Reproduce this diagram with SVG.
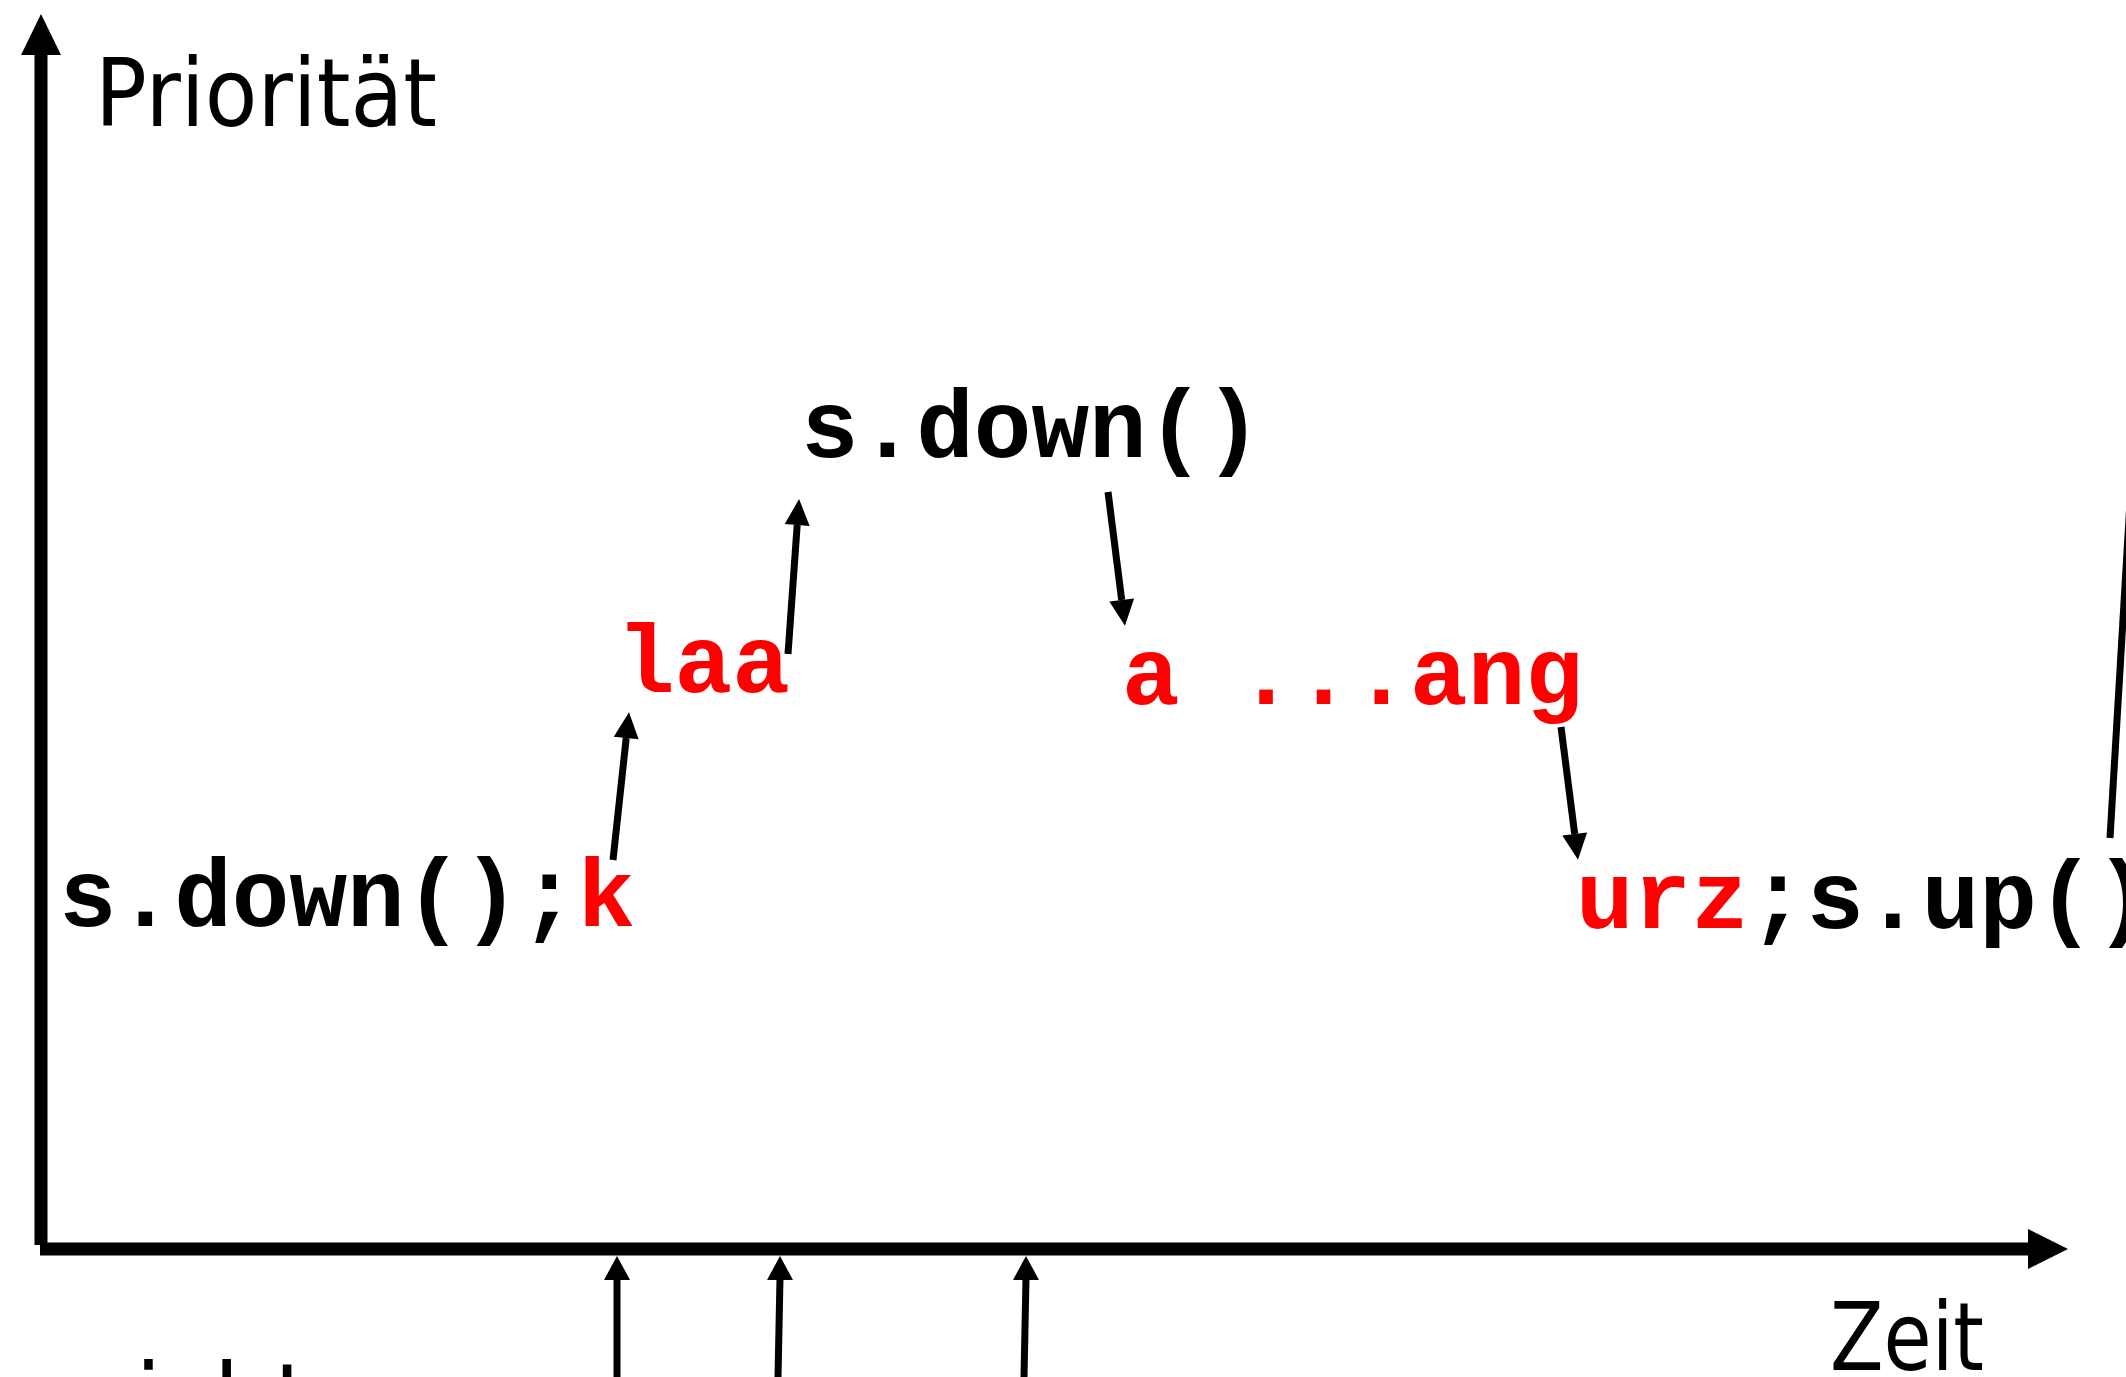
<svg xmlns="http://www.w3.org/2000/svg" width="2126" height="1377" viewBox="0 0 2126 1377">
<style>
.sans{font-family:"DejaVu Sans","Lato",sans-serif;font-weight:normal;font-size:95px;fill:#000}
.mono{font-family:"Liberation Mono","Courier New",monospace;font-weight:bold;font-size:96px;fill:#000}
.red{fill:#ff0000}
.conn{stroke:#000;stroke-width:7;fill:none}
.axis{stroke:#000;stroke-width:13;fill:none}
</style>
<defs>
<marker id="ah" markerUnits="userSpaceOnUse" markerWidth="28" markerHeight="26" refX="0" refY="12.5" orient="auto" overflow="visible">
<path d="M0,0 L26,12.5 L0,25 z" fill="#000"/>
</marker>
</defs>
<rect width="2126" height="1377" fill="#fff"/>
<g id="axes">
<line class="axis" x1="41" y1="52" x2="41" y2="1245"/>
<path d="M41,14 L61,55 L21,55 z" fill="#000"/>
<line class="axis" x1="40" y1="1249" x2="2030" y2="1249"/>
<path d="M2068,1249 L2028,1229 L2028,1269 z" fill="#000"/>
</g>
<g id="label-prioritaet"><text class="sans" x="95" y="126" textLength="342" lengthAdjust="spacingAndGlyphs">Priorität</text></g>
<g id="label-zeit"><text class="sans" x="1830" y="1370" textLength="154" lengthAdjust="spacingAndGlyphs">Zeit</text></g>
<g id="label-bottom"><text class="sans" x="75" y="1431">nicht</text></g>
<g id="node-start"><text class="mono" x="59" y="926">s.down();<tspan class="red">k</tspan></text></g>
<g id="node-laa"><text class="mono red" x="617" y="692">laa</text></g>
<g id="node-sdown"><text class="mono" x="801" y="457">s.down()</text></g>
<g id="node-ang"><text class="mono red" x="1122" y="704">a ...ang</text></g>
<g id="node-end"><text class="mono" x="1576" y="928"><tspan class="red">urz</tspan>;s.up()</text></g>
<g id="connectors">
<line class="conn" x1="613" y1="860" x2="626.2" y2="738" marker-end="url(#ah)"/>
<line class="conn" x1="788" y1="654" x2="797.2" y2="525" marker-end="url(#ah)"/>
<line class="conn" x1="1108" y1="492" x2="1121.7" y2="600" marker-end="url(#ah)"/>
<line class="conn" x1="1561" y1="727" x2="1574.7" y2="834" marker-end="url(#ah)"/>
<line class="conn" x1="2110" y1="838" x2="2142" y2="300"/>
<line class="conn" x1="617" y1="1377" x2="617" y2="1278"/>
<path d="M617,1256 L630,1280 L604,1280 z" fill="#000"/>
<line class="conn" x1="778" y1="1377" x2="780" y2="1278"/>
<path d="M780,1256 L793,1280 L767,1280 z" fill="#000"/>
<line class="conn" x1="1024" y1="1377" x2="1026" y2="1278"/>
<path d="M1026,1256 L1039,1280 L1013,1280 z" fill="#000"/>
</g>
</svg>
